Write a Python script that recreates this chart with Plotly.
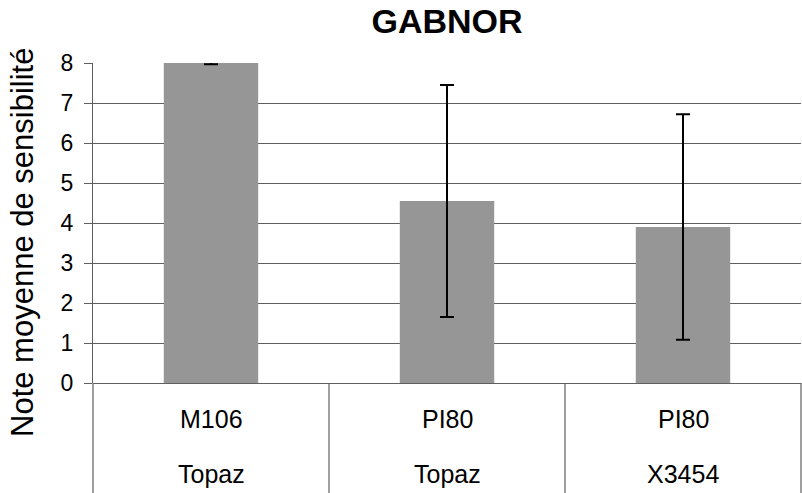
import plotly.graph_objects as go

varieties = ["M106", "PI80", "PI80"]
parents = ["Topaz", "Topaz", "X3454"]
means = [8.0, 4.55, 3.9]
errors = [0.03, 2.9, 2.82]
y_ticks = [0, 1, 2, 3, 4, 5, 6, 7, 8]

FONT = "Liberation Sans, Arial, sans-serif"
GRID = "#5f5f5f"
W, H = 802, 493
L, R, T, B = 93, 1, 63, 110
ph = H - T - B
pw = W - L - R

xs = list(range(len(means)))
fig = go.Figure()
fig.add_trace(go.Bar(
    x=xs, y=means, width=0.4,
    marker=dict(color="#969696", line=dict(width=0)),
    error_y=dict(type="data", array=errors, visible=True, color="black",
                 thickness=2, width=7),
))

n = len(means)
shapes = []
for i in range(n + 1):
    shapes.append(dict(type="line", xref="paper", yref="paper",
                       x0=i / n, x1=i / n, y0=0, y1=-B / ph,
                       line=dict(color=GRID, width=1.2)))

annotations = []
for i, (v, p) in enumerate(zip(varieties, parents)):
    annotations.append(dict(x=i, y=-36 / ph, xref="x", yref="paper", text=v,
                            showarrow=False, font=dict(size=25, color="black", family=FONT),
                            xanchor="center", yanchor="middle"))
    annotations.append(dict(x=i, y=-91 / ph, xref="x", yref="paper", text=p,
                            showarrow=False, font=dict(size=25, color="black", family=FONT),
                            xanchor="center", yanchor="middle"))
annotations.append(dict(x=(22 - L) / pw, y=(383 - 243) / ph, xref="paper", yref="paper",
                        text="Note moyenne de sensibilité", textangle=-90, showarrow=False,
                        font=dict(size=31, color="black", family=FONT),
                        xanchor="center", yanchor="middle"))

fig.update_layout(
    width=W, height=H,
    margin=dict(l=L, r=R, t=T, b=B, pad=0),
    paper_bgcolor="white", plot_bgcolor="white",
    showlegend=False,
    title=dict(text="<b>GABNOR</b>", x=(L + pw / 2) / W, xanchor="center",
               y=1 - 21 / H, yanchor="middle",
               font=dict(size=34, color="black", family=FONT)),
    xaxis=dict(range=[-0.5, n - 0.5], showticklabels=False, showgrid=False,
               zeroline=False, showline=False, ticks=""),
    yaxis=dict(range=[0, 8], tickvals=y_ticks, showgrid=True, gridcolor=GRID, gridwidth=1,
               zeroline=True, zerolinecolor=GRID, zerolinewidth=1.2,
               showline=True, linecolor=GRID, linewidth=1.2,
               ticks="outside", ticklen=8, tickcolor=GRID, tickwidth=1,
               ticklabelstandoff=6,
               tickfont=dict(size=23, color="black", family=FONT)),
    shapes=shapes,
    annotations=annotations,
    bargap=0.6,
)
fig.write_html("out.html", config={"displayModeBar": False},
               post_script="document.body.style.margin='0';document.body.style.overflow='hidden';")
